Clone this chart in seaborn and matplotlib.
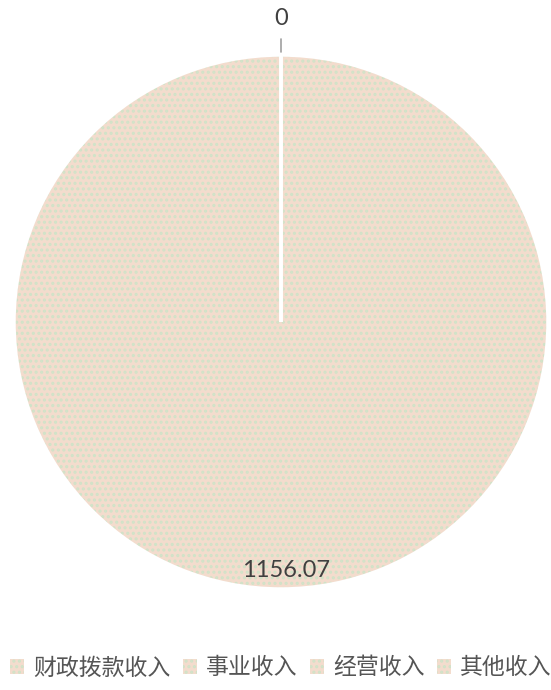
import matplotlib
matplotlib.use("Agg")
import matplotlib.pyplot as plt
from matplotlib.patches import Patch
import seaborn as sns
import numpy as np

categories = ["财政拨款收入", "事业收入", "经营收入", "其他收入"]
values = [0, 0, 0, 1156.07]
value_labels = ["0", "0", "0", "1156.07"]

face_colors = ["#F3DCCD", "#F3DCCD", "#F3DCCD", "#F3DCCD"]
dot_color = "#D0E3C8"

sns.set_theme(style="white")
plt.rcParams["font.family"] = ["Noto Sans CJK SC", "DejaVu Sans"]
plt.rcParams["hatch.linewidth"] = 1.5

W, H = 551, 690
fig = plt.figure(figsize=(W / 100, H / 100), dpi=100)
cx, cy, r = 281, 322, 267
ax = fig.add_axes([(cx - r) / W, (H - cy - r) / H, 2 * r / W, 2 * r / H])
ax.set_xlim(-1, 1)
ax.set_ylim(-1, 1)
ax.axis("off")

wedges, _ = ax.pie(values, colors=face_colors, startangle=90, counterclock=False,
                   radius=1, wedgeprops=dict(linewidth=0, edgecolor=dot_color, hatch="..."))
wedges2, _ = ax.pie(values, colors=["none"] * 4, startangle=90, counterclock=False,
                    radius=1, wedgeprops=dict(linewidth=2.5, edgecolor="white"))
ax.set_xlim(-1, 1)
ax.set_ylim(-1, 1)

shown_zero = False
for w, v, lab in zip(wedges, values, value_labels):
    ang = np.deg2rad((w.theta1 + w.theta2) / 2)
    if v == 0:
        if shown_zero:
            continue
        shown_zero = True
        ax.plot([1.01 * np.cos(ang), 1.06 * np.cos(ang)],
                [1.01 * np.sin(ang), 1.06 * np.sin(ang)], color="#A0A0A0", lw=1.2,
                clip_on=False)
        ax.text(1.135 * np.cos(ang), 1.135 * np.sin(ang), lab, ha="center", va="center",
                fontsize=17, color="#404040", family=["Lato", "DejaVu Sans"], clip_on=False)
    else:
        ax.text(0.93 * np.cos(ang) + 0.02, 0.93 * np.sin(ang), lab, ha="center", va="center",
                fontsize=17, color="#404040", family=["Lato", "DejaVu Sans"])

handles = [Patch(facecolor=c, edgecolor=dot_color, hatch="...", linewidth=0) for c in face_colors]
leg = fig.legend(handles, categories, loc="center", bbox_to_anchor=(281 / W, 1 - 668 / H),
                 ncol=4, frameon=False, handlelength=0.6, handleheight=0.6,
                 handletextpad=0.4, columnspacing=0.55, fontsize=16.5,
                 labelcolor="#555555")

fig.savefig("out.png", dpi=100)
